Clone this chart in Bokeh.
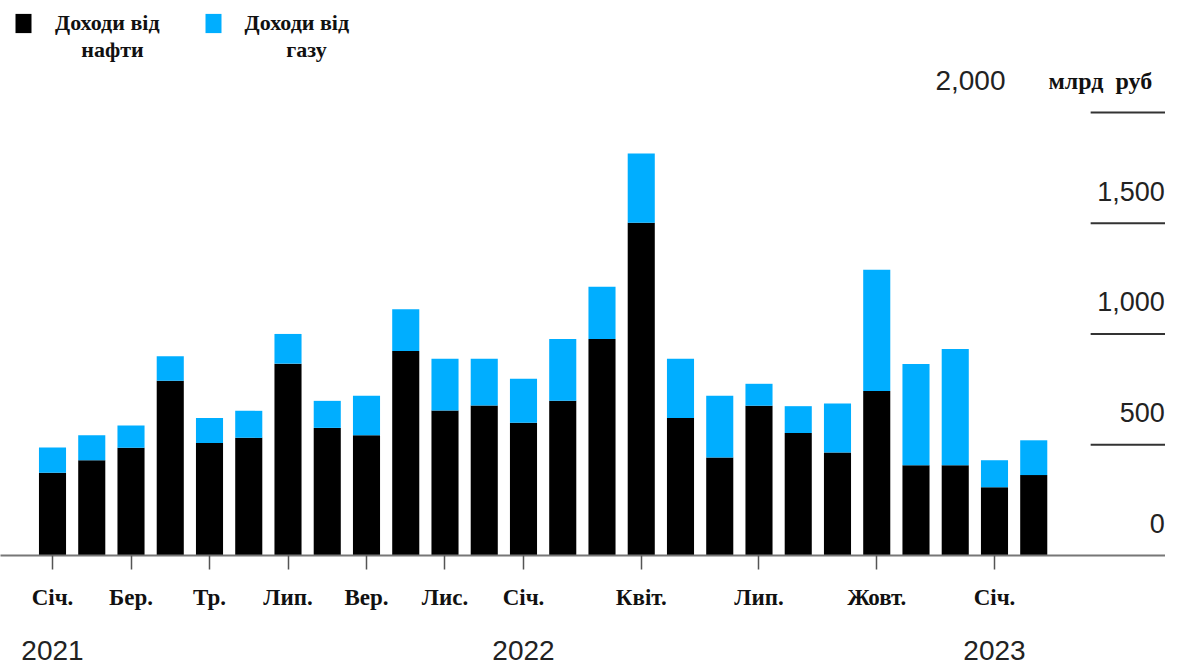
from bokeh.plotting import figure
from bokeh.models import (ColumnDataSource, Range1d, FixedTicker, LinearAxis,
                          Legend, LegendItem, Label)
from bokeh.core.properties import value
from bokeh.embed import file_html
from bokeh.resources import INLINE

# ---- data (billion rubles), Jan 2021 .. Feb 2023 ----
months = ["2021-01", "2021-02", "2021-03", "2021-04", "2021-05", "2021-06",
          "2021-07", "2021-08", "2021-09", "2021-10", "2021-11", "2021-12",
          "2022-01", "2022-02", "2022-03", "2022-04", "2022-05", "2022-06",
          "2022-07", "2022-08", "2022-09", "2022-10", "2022-11", "2022-12",
          "2023-01", "2023-02"]
oil = [374, 430, 486, 789, 508, 531, 866, 576, 543, 923, 655, 677, 599,
       698, 977, 1502, 621, 442, 676, 553, 465, 743, 407, 407, 308, 363]
gas = [113, 113, 101, 110, 113, 122, 134, 122, 178, 189, 233, 211, 199,
       279, 236, 312, 267, 279, 99, 121, 221, 547, 457, 525, 122, 157]

month_tick_idx = [0, 2, 4, 6, 8, 10, 12, 15, 18, 21, 24]
month_tick_labels = ["Січ.", "Бер.", "Тр.", "Лип.", "Вер.", "Лис.", "Січ.",
                     "Квіт.", "Лип.", "Жовт.", "Січ."]
year_tick_idx = [0, 12, 24]
year_labels = ["2021", "2022", "2023"]
y_ticks = [0, 500, 1000, 1500, 2000]
y_tick_labels = ["0", "500", "1,000", "1,500", "2,000"]
unit_label = "млрд\u00a0 руб"
series_line1 = ["Доходи від", "Доходи від"]
series_line2 = ["нафти", "газу"]
colors = ["#000000", "#00AEFF"]

source = ColumnDataSource(dict(x=list(range(len(months))), month=months, oil=oil, gas=gas))

p = figure(width=1165, height=670,
           x_range=Range1d(-1.325, 28.357), y_range=Range1d(0, 2505),
           x_axis_type=None, y_axis_type=None,
           output_backend="svg", toolbar_location=None,
           min_border_left=0, min_border_right=0, min_border_top=0,
           min_border_bottom=115)
p.outline_line_color = None
p.background_fill_color = "white"

rs = p.vbar_stack(["oil", "gas"], x="x", width=0.69, color=colors,
                  line_color=None, source=source)

# month axis
ax = LinearAxis(ticker=FixedTicker(ticks=month_tick_idx),
                major_label_overrides={i: l for i, l in zip(month_tick_idx, month_tick_labels)})
ax.axis_line_color = "#777777"
ax.axis_line_width = 2
ax.major_tick_line_color = "#555555"
ax.major_tick_line_width = 1.5
ax.major_tick_out = 14
ax.major_tick_in = 0
ax.minor_tick_line_color = None
ax.major_label_text_font = "Liberation Serif"
ax.major_label_text_font_style = "bold"
ax.major_label_text_font_size = "23px"
ax.major_label_text_color = "#111111"
ax.major_label_standoff = 15
p.add_layout(ax, "below")

# year axis
ay = LinearAxis(ticker=FixedTicker(ticks=year_tick_idx),
                major_label_overrides={i: l for i, l in zip(year_tick_idx, year_labels)})
ay.axis_line_color = None
ay.major_tick_line_color = None
ay.minor_tick_line_color = None
ay.major_tick_out = 0
ay.major_tick_in = 0
ay.major_label_text_font = "Liberation Sans"
ay.major_label_text_font_size = "28px"
ay.major_label_text_color = "#222222"
ay.major_label_standoff = 28
p.add_layout(ay, "below")

# short right-hand gridlines
p.segment(x0=26.45, x1=28.357, y0=y_ticks[1:], y1=y_ticks[1:],
          line_color="#333333", line_width=2)

# y tick labels
p.text(x=[28.34] * 4, y=y_ticks[:4], text=y_tick_labels[:4],
       text_align="right", text_baseline="alphabetic", y_offset=-32,
       text_font=value("Liberation Sans"), text_font_size="27px",
       text_color="#222222")
p.text(x=[24.28], y=y_ticks[4:], text=y_tick_labels[4:],
       text_align="right", text_baseline="alphabetic", y_offset=-32,
       text_font=value("Liberation Sans"), text_font_size="28px",
       text_color="#222222")
p.text(x=[25.375], y=y_ticks[4:], text=[unit_label],
       text_align="left", text_baseline="alphabetic", y_offset=-31,
       text_font=value("Liberation Serif"), text_font_style="bold",
       text_font_size="24px", text_color="#111111")

legend = Legend(items=[LegendItem(label=series_line1[0], renderers=[rs[0]]),
                       LegendItem(label=series_line1[1], renderers=[rs[1]])],
                orientation="horizontal", location=(13, 519))
legend.margin = 0
legend.padding = 0
legend.spacing = 43
legend.glyph_width = 20
legend.glyph_height = 24
legend.label_standoff = 22
legend.label_text_font = "Liberation Serif"
legend.label_text_font_style = "bold"
legend.label_text_font_size = "22px"
legend.label_text_color = "#111111"
legend.border_line_color = None
legend.background_fill_alpha = 0
p.add_layout(legend)

for txt, cx in zip(series_line2, [112, 306]):
    p.add_layout(Label(x=cx, y=506, x_units="screen", y_units="screen", text=txt,
                       text_align="center", text_baseline="alphabetic",
                       text_font="Liberation Serif", text_font_style="bold",
                       text_font_size="22px", text_color="#111111"))

open("out.html", "w").write(file_html(p, INLINE))
